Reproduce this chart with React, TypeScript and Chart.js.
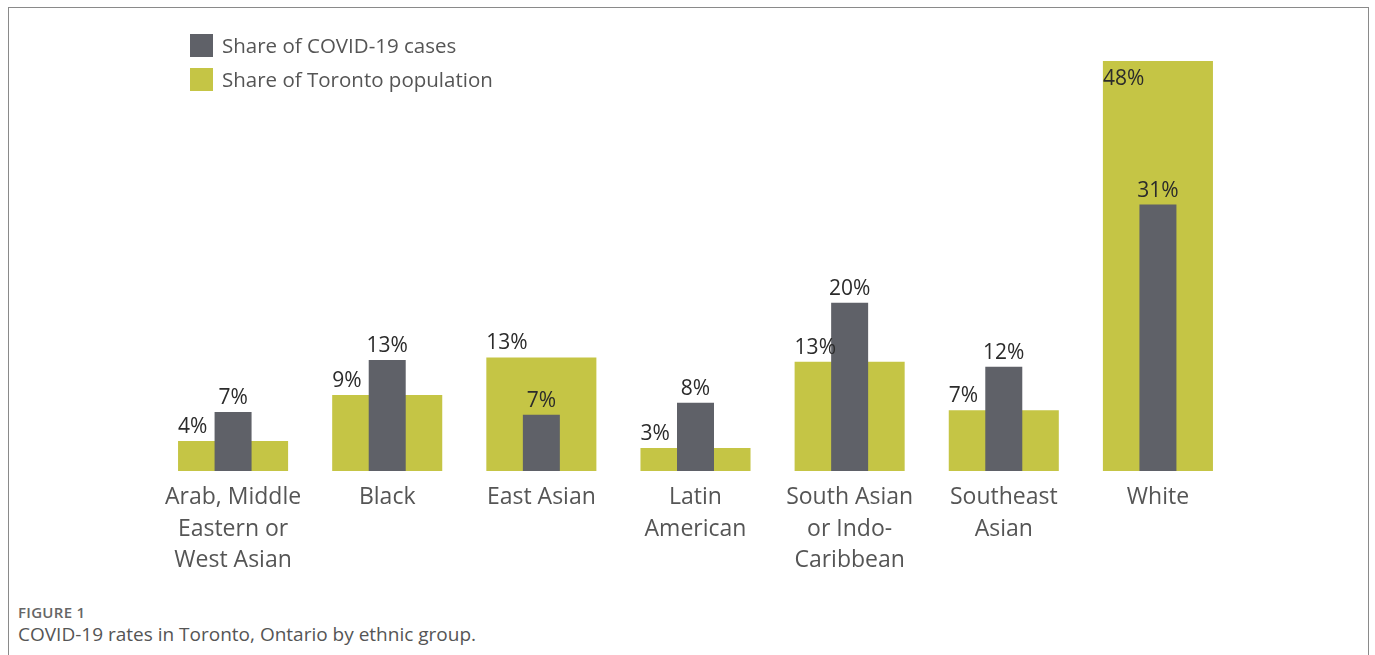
import React, { useEffect, useRef } from "react";
import { Chart, registerables } from "chart.js";

Chart.register(...registerables);

const categories: string[][] = [
  ["Arab, Middle", "Eastern or", "West Asian"],
  ["Black"],
  ["East Asian"],
  ["Latin", "American"],
  ["South Asian", "or Indo-", "Caribbean"],
  ["Southeast", "Asian"],
  ["White"],
];
const casesShare = [6.9, 13.0, 6.6, 8.0, 19.7, 12.2, 31.2];
const populationShare = [3.5, 8.9, 13.3, 2.7, 12.8, 7.1, 48];
const seriesNames = ["Share of COVID-19 cases", "Share of Toronto population"];

const CASES_COLOR = "#5f6168";
const POP_COLOR = "#c5c545";
const FONT = "'Open Sans', 'Noto Sans', sans-serif";

const labelPlugin = {
  id: "valueLabels",
  afterDatasetsDraw(chart: any) {
    const ctx = chart.ctx;
    const area = chart.chartArea;
    ctx.save();
    ctx.font = `21px ${FONT}`;
    ctx.fillStyle = "#2b2b2b";
    ctx.textBaseline = "alphabetic";
    chart.data.datasets.forEach((ds: any, di: number) => {
      const meta = chart.getDatasetMeta(di);
      meta.data.forEach((bar: any, i: number) => {
        const v = ds.data[i];
        const txt = Math.round(v) + "%";
        const { x, y, width } = bar.getProps(["x", "y", "width"], true);
        let by = y - 8;
        if (by - 16 < area.top) by = y + 24;
        if (ds.labelAlign === "left") {
          ctx.textAlign = "left";
          ctx.fillText(txt, x - width / 2, by);
        } else {
          ctx.textAlign = "center";
          ctx.fillText(txt, x, by);
        }
      });
    });
    ctx.restore();
  },
};

export default function App() {
  const ref = useRef<HTMLCanvasElement | null>(null);
  useEffect(() => {
    if (!ref.current) return;
    const chart = new Chart(ref.current, {
      type: "bar",
      data: {
        labels: categories,
        datasets: [
          {
            label: seriesNames[0],
            data: casesShare,
            backgroundColor: CASES_COLOR,
            grouped: false,
            order: 1,
            barPercentage: 0.24,
            categoryPercentage: 1,
            labelAlign: "center",
          } as any,
          {
            label: seriesNames[1],
            data: populationShare,
            backgroundColor: POP_COLOR,
            grouped: false,
            order: 2,
            barPercentage: 0.714,
            categoryPercentage: 1,
            labelAlign: "left",
          } as any,
        ],
      },
      options: {
        responsive: false,
        animation: false,
        layout: { padding: { left: 156, right: 140, top: 61, bottom: 9 } },
        plugins: { legend: { display: false }, tooltip: { enabled: false } },
        scales: {
          x: {
            grid: { display: false, drawTicks: false },
            border: { display: false },
            ticks: {
              color: "#555555",
              font: { family: FONT, size: 23, lineHeight: 1.37 },
              padding: 11,
              maxRotation: 0,
              autoSkip: false,
            },
            afterFit(scale: any) {
              scale.height = 120;
            },
          },
          y: { display: false, min: 0, max: 48 },
        },
      },
      plugins: [labelPlugin],
    });
    return () => chart.destroy();
  }, []);

  const row = { display: "flex", alignItems: "center", height: 34, whiteSpace: "nowrap" as const };
  const sq = (c: string) => ({ width: 23, height: 23, background: c, marginRight: 9, flex: "none" });

  return (
    <div style={{ fontFamily: FONT }}>
      <div
        style={{
          position: "absolute",
          left: 8,
          top: 7,
          width: 1361,
          height: 648,
          boxSizing: "border-box",
          border: "1px solid #8a8a8a",
          borderBottom: "none",
        }}
      />
      <canvas
        ref={ref}
        width={1375}
        height={600}
        style={{ position: "absolute", left: 0, top: 0, display: "block" }}
      />
      <div style={{ position: "absolute", left: 190, top: 28, color: "#555", fontSize: 20.5 }}>
        <div style={row}>
          <div style={sq(CASES_COLOR)} />
          <span>{seriesNames[0]}</span>
        </div>
        <div style={row}>
          <div style={sq(POP_COLOR)} />
          <span>{seriesNames[1]}</span>
        </div>
      </div>
      <div style={{ position: "absolute", left: 18, top: 602, color: "#666", fontSize: 15, fontWeight: 600, letterSpacing: 0.3 }}>
        FIGURE 1
      </div>
      <div style={{ position: "absolute", left: 18, top: 621, color: "#555", fontSize: 19 }}>
        COVID-19 rates in Toronto, Ontario by ethnic group.
      </div>
    </div>
  );
}
